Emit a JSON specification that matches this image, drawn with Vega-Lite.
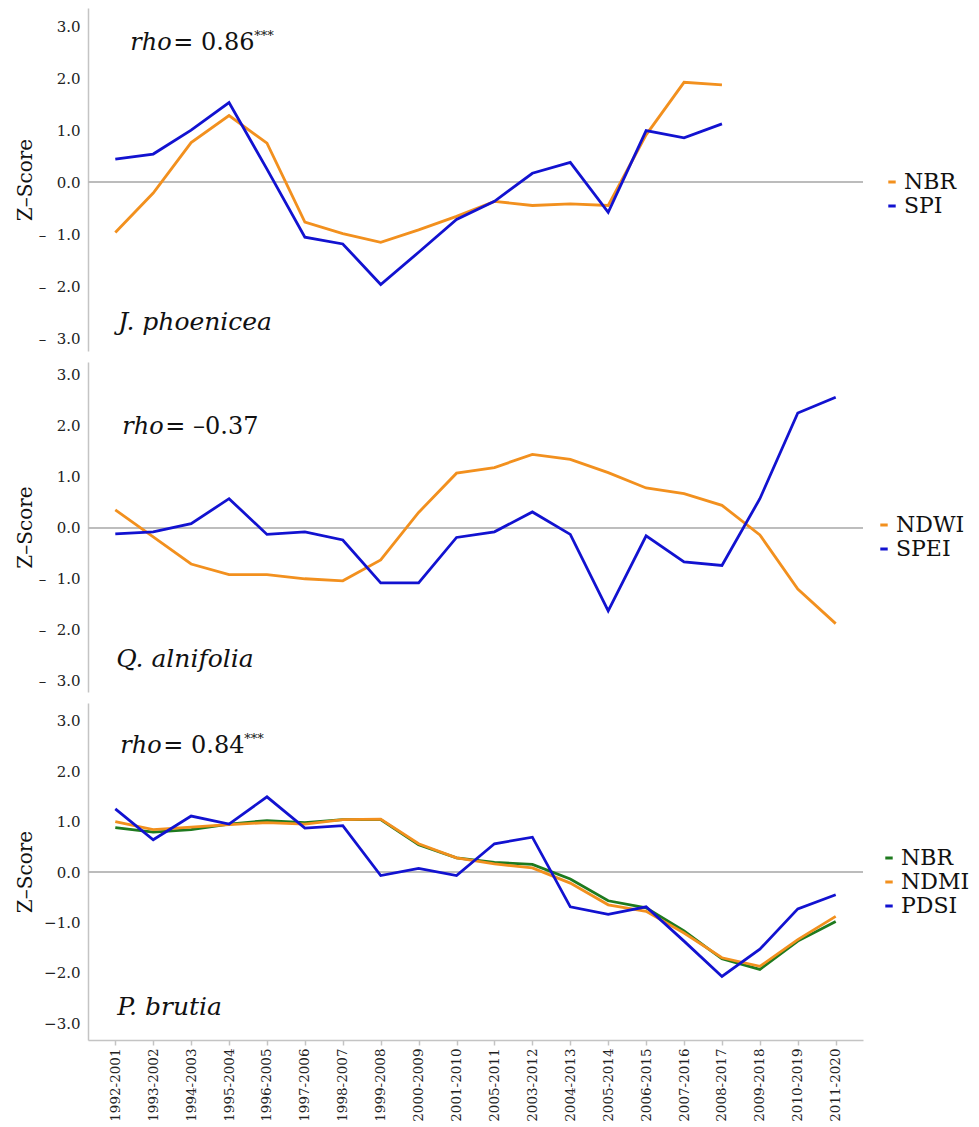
{
  "$schema": "https://vega.github.io/schema/vega-lite/v6.json",
  "background": "white",
  "padding": {"left": 15, "top": 8, "right": 5, "bottom": 3},
  "config": {"view": {"stroke": null}, "font": "DejaVu Serif"},
  "spacing": 11,
  "resolve": {"scale": {"color": "independent", "x": "independent", "y": "independent"}, "legend": {"color": "independent"}},
  "datasets": {
    "jp": [
      {"period": "1992-2001", "series": "NBR", "z": -0.97},
      {"period": "1993-2002", "series": "NBR", "z": -0.21},
      {"period": "1994-2003", "series": "NBR", "z": 0.76},
      {"period": "1995-2004", "series": "NBR", "z": 1.28},
      {"period": "1996-2005", "series": "NBR", "z": 0.75},
      {"period": "1997-2006", "series": "NBR", "z": -0.77},
      {"period": "1998-2007", "series": "NBR", "z": -0.99},
      {"period": "1999-2008", "series": "NBR", "z": -1.16},
      {"period": "2000-2009", "series": "NBR", "z": -0.92},
      {"period": "2001-2010", "series": "NBR", "z": -0.66},
      {"period": "2005-2011", "series": "NBR", "z": -0.37},
      {"period": "2003-2012", "series": "NBR", "z": -0.45},
      {"period": "2004-2013", "series": "NBR", "z": -0.42},
      {"period": "2005-2014", "series": "NBR", "z": -0.45},
      {"period": "2006-2015", "series": "NBR", "z": 0.91},
      {"period": "2007-2016", "series": "NBR", "z": 1.92},
      {"period": "2008-2017", "series": "NBR", "z": 1.87},
      {"period": "1992-2001", "series": "SPI", "z": 0.44},
      {"period": "1993-2002", "series": "SPI", "z": 0.54},
      {"period": "1994-2003", "series": "SPI", "z": 1.0},
      {"period": "1995-2004", "series": "SPI", "z": 1.53},
      {"period": "1996-2005", "series": "SPI", "z": 0.25},
      {"period": "1997-2006", "series": "SPI", "z": -1.06},
      {"period": "1998-2007", "series": "SPI", "z": -1.19},
      {"period": "1999-2008", "series": "SPI", "z": -1.97},
      {"period": "2000-2009", "series": "SPI", "z": -1.35},
      {"period": "2001-2010", "series": "SPI", "z": -0.72},
      {"period": "2005-2011", "series": "SPI", "z": -0.37},
      {"period": "2003-2012", "series": "SPI", "z": 0.17},
      {"period": "2004-2013", "series": "SPI", "z": 0.38},
      {"period": "2005-2014", "series": "SPI", "z": -0.58},
      {"period": "2006-2015", "series": "SPI", "z": 0.99},
      {"period": "2007-2016", "series": "SPI", "z": 0.85},
      {"period": "2008-2017", "series": "SPI", "z": 1.12}
    ],
    "qa": [
      {"period": "1992-2001", "series": "NDWI", "z": 0.35},
      {"period": "1993-2002", "series": "NDWI", "z": -0.18},
      {"period": "1994-2003", "series": "NDWI", "z": -0.71},
      {"period": "1995-2004", "series": "NDWI", "z": -0.92},
      {"period": "1996-2005", "series": "NDWI", "z": -0.92},
      {"period": "1997-2006", "series": "NDWI", "z": -1.0},
      {"period": "1998-2007", "series": "NDWI", "z": -1.04},
      {"period": "1999-2008", "series": "NDWI", "z": -0.63},
      {"period": "2000-2009", "series": "NDWI", "z": 0.3},
      {"period": "2001-2010", "series": "NDWI", "z": 1.07},
      {"period": "2005-2011", "series": "NDWI", "z": 1.18},
      {"period": "2003-2012", "series": "NDWI", "z": 1.44},
      {"period": "2004-2013", "series": "NDWI", "z": 1.34},
      {"period": "2005-2014", "series": "NDWI", "z": 1.08},
      {"period": "2006-2015", "series": "NDWI", "z": 0.78},
      {"period": "2007-2016", "series": "NDWI", "z": 0.67},
      {"period": "2008-2017", "series": "NDWI", "z": 0.44},
      {"period": "2009-2018", "series": "NDWI", "z": -0.14},
      {"period": "2010-2019", "series": "NDWI", "z": -1.2},
      {"period": "2011-2020", "series": "NDWI", "z": -1.88},
      {"period": "1992-2001", "series": "SPEI", "z": -0.12},
      {"period": "1993-2002", "series": "SPEI", "z": -0.08},
      {"period": "1994-2003", "series": "SPEI", "z": 0.08},
      {"period": "1995-2004", "series": "SPEI", "z": 0.57},
      {"period": "1996-2005", "series": "SPEI", "z": -0.13},
      {"period": "1997-2006", "series": "SPEI", "z": -0.08},
      {"period": "1998-2007", "series": "SPEI", "z": -0.24},
      {"period": "1999-2008", "series": "SPEI", "z": -1.08},
      {"period": "2000-2009", "series": "SPEI", "z": -1.08},
      {"period": "2001-2010", "series": "SPEI", "z": -0.19},
      {"period": "2005-2011", "series": "SPEI", "z": -0.08},
      {"period": "2003-2012", "series": "SPEI", "z": 0.31},
      {"period": "2004-2013", "series": "SPEI", "z": -0.13},
      {"period": "2005-2014", "series": "SPEI", "z": -1.63},
      {"period": "2006-2015", "series": "SPEI", "z": -0.16},
      {"period": "2007-2016", "series": "SPEI", "z": -0.67},
      {"period": "2008-2017", "series": "SPEI", "z": -0.74},
      {"period": "2009-2018", "series": "SPEI", "z": 0.57},
      {"period": "2010-2019", "series": "SPEI", "z": 2.25},
      {"period": "2011-2020", "series": "SPEI", "z": 2.56}
    ],
    "pb": [
      {"period": "1992-2001", "series": "NBR", "z": 0.88},
      {"period": "1993-2002", "series": "NBR", "z": 0.79},
      {"period": "1994-2003", "series": "NBR", "z": 0.84},
      {"period": "1995-2004", "series": "NBR", "z": 0.95},
      {"period": "1996-2005", "series": "NBR", "z": 1.02},
      {"period": "1997-2006", "series": "NBR", "z": 0.98},
      {"period": "1998-2007", "series": "NBR", "z": 1.04},
      {"period": "1999-2008", "series": "NBR", "z": 1.04},
      {"period": "2000-2009", "series": "NBR", "z": 0.54},
      {"period": "2001-2010", "series": "NBR", "z": 0.28},
      {"period": "2005-2011", "series": "NBR", "z": 0.19},
      {"period": "2003-2012", "series": "NBR", "z": 0.15},
      {"period": "2004-2013", "series": "NBR", "z": -0.14},
      {"period": "2005-2014", "series": "NBR", "z": -0.57},
      {"period": "2006-2015", "series": "NBR", "z": -0.71},
      {"period": "2007-2016", "series": "NBR", "z": -1.17},
      {"period": "2008-2017", "series": "NBR", "z": -1.72},
      {"period": "2009-2018", "series": "NBR", "z": -1.93},
      {"period": "2010-2019", "series": "NBR", "z": -1.37},
      {"period": "2011-2020", "series": "NBR", "z": -0.98},
      {"period": "1992-2001", "series": "NDMI", "z": 1.0},
      {"period": "1993-2002", "series": "NDMI", "z": 0.84},
      {"period": "1994-2003", "series": "NDMI", "z": 0.89},
      {"period": "1995-2004", "series": "NDMI", "z": 0.94},
      {"period": "1996-2005", "series": "NDMI", "z": 0.98},
      {"period": "1997-2006", "series": "NDMI", "z": 0.95},
      {"period": "1998-2007", "series": "NDMI", "z": 1.04},
      {"period": "1999-2008", "series": "NDMI", "z": 1.05},
      {"period": "2000-2009", "series": "NDMI", "z": 0.56},
      {"period": "2001-2010", "series": "NDMI", "z": 0.28},
      {"period": "2005-2011", "series": "NDMI", "z": 0.16},
      {"period": "2003-2012", "series": "NDMI", "z": 0.08},
      {"period": "2004-2013", "series": "NDMI", "z": -0.22},
      {"period": "2005-2014", "series": "NDMI", "z": -0.65},
      {"period": "2006-2015", "series": "NDMI", "z": -0.78},
      {"period": "2007-2016", "series": "NDMI", "z": -1.21},
      {"period": "2008-2017", "series": "NDMI", "z": -1.7},
      {"period": "2009-2018", "series": "NDMI", "z": -1.87},
      {"period": "2010-2019", "series": "NDMI", "z": -1.34},
      {"period": "2011-2020", "series": "NDMI", "z": -0.88},
      {"period": "1992-2001", "series": "PDSI", "z": 1.25},
      {"period": "1993-2002", "series": "PDSI", "z": 0.64},
      {"period": "1994-2003", "series": "PDSI", "z": 1.11},
      {"period": "1995-2004", "series": "PDSI", "z": 0.95},
      {"period": "1996-2005", "series": "PDSI", "z": 1.49},
      {"period": "1997-2006", "series": "PDSI", "z": 0.87},
      {"period": "1998-2007", "series": "PDSI", "z": 0.92},
      {"period": "1999-2008", "series": "PDSI", "z": -0.07},
      {"period": "2000-2009", "series": "PDSI", "z": 0.07},
      {"period": "2001-2010", "series": "PDSI", "z": -0.07},
      {"period": "2005-2011", "series": "PDSI", "z": 0.56},
      {"period": "2003-2012", "series": "PDSI", "z": 0.69},
      {"period": "2004-2013", "series": "PDSI", "z": -0.69},
      {"period": "2005-2014", "series": "PDSI", "z": -0.84},
      {"period": "2006-2015", "series": "PDSI", "z": -0.69},
      {"period": "2007-2016", "series": "PDSI", "z": -1.37},
      {"period": "2008-2017", "series": "PDSI", "z": -2.07},
      {"period": "2009-2018", "series": "PDSI", "z": -1.53},
      {"period": "2010-2019", "series": "PDSI", "z": -0.73},
      {"period": "2011-2020", "series": "PDSI", "z": -0.45}
    ]
  },
  "vconcat": [
    {
      "width": 775,
      "height": 343,
      "layer": [
        {
          "data": {"name": "jp"},
          "mark": {"type": "rule", "color": "#bdbdbd", "strokeWidth": 1.5},
          "encoding": {
            "y": {"datum": 0, "type": "quantitative", "scale": {"domain": [-3.25, 3.35], "nice": false, "zero": false},
              "axis": {"title": "Z–Score", "titleFontSize": 20, "titleFontWeight": "normal", "titleColor": "#111", "titleX": -53, "labelFontSize": 15, "labelColor": "#222", "ticks": false, "labelPadding": 8, "domainColor": "#c4c4c4", "domainWidth": 1.5, "grid": false, "values": [-3, -2, -1, 0, 1, 2, 3], "labelExpr": "datum.value < 0 ? '–\u2002\u2009' + format(-datum.value, '.1f') : format(datum.value, '.1f')"}}
          }
        },
        {
          "data": {"name": "jp"},
          "mark": {"type": "line", "strokeWidth": 2.8},
          "encoding": {
            "x": {"field": "period", "type": "ordinal", "title": null, "axis": null,
              "scale": {"type": "point", "padding": 0.72, "domain": ["1992-2001","1993-2002","1994-2003","1995-2004","1996-2005","1997-2006","1998-2007","1999-2008","2000-2009","2001-2010","2005-2011","2003-2012","2004-2013","2005-2014","2006-2015","2007-2016","2008-2017","2009-2018","2010-2019","2011-2020"]}},
            "y": {"field": "z", "type": "quantitative",
              "axis": {"title": "Z–Score", "titleFontSize": 20, "titleFontWeight": "normal", "titleColor": "#111", "titleX": -53, "labelFontSize": 15, "labelColor": "#222", "ticks": false, "labelPadding": 8, "domainColor": "#c4c4c4", "domainWidth": 1.5, "grid": false, "values": [-3, -2, -1, 0, 1, 2, 3], "labelExpr": "datum.value < 0 ? '–\u2002\u2009' + format(-datum.value, '.1f') : format(datum.value, '.1f')"}},
            "color": {"field": "series", "type": "nominal",
              "scale": {"domain": ["NBR", "SPI"], "range": ["#F2901E", "#1212D0"]},
              "legend": {"title": null, "orient": "none", "legendX": 793, "legendY": 163, "padding": 0, "symbolType": "stroke", "symbolStrokeWidth": 3, "symbolSize": 55, "labelFontSize": 22, "labelColor": "#111", "rowPadding": 2, "labelOffset": 1}}
          }
        },
        {
          "data": {"values": [{"label": "rho"}]},
          "mark": {"type": "text", "fontStyle": "italic", "fontSize": 24, "align": "left", "baseline": "alphabetic", "dx": 15, "color": "#111"},
          "encoding": {"x": {"datum": "1992-2001", "type": "ordinal", "axis": null}, "y": {"datum": 2.55, "type": "quantitative"}, "text": {"field": "label"}}
        },
        {
          "data": {"values": [{"label": "= 0.86"}]},
          "mark": {"type": "text", "fontSize": 24, "align": "left", "baseline": "alphabetic", "dx": 58, "color": "#111"},
          "encoding": {"x": {"datum": "1992-2001", "type": "ordinal", "axis": null}, "y": {"datum": 2.55, "type": "quantitative"}, "text": {"field": "label"}}
        },
        {
          "data": {"values": [{"label": "***"}]},
          "mark": {"type": "text", "fontSize": 13, "align": "left", "baseline": "alphabetic", "dx": 139, "dy": -10, "color": "#111"},
          "encoding": {"x": {"datum": "1992-2001", "type": "ordinal", "axis": null}, "y": {"datum": 2.55, "type": "quantitative"}, "text": {"field": "label"}}
        },
        {
          "data": {"values": [{"label": "J. phoenicea"}]},
          "mark": {"type": "text", "fontStyle": "italic", "fontSize": 25, "align": "left", "baseline": "alphabetic", "dx": 3, "color": "#111"},
          "encoding": {"x": {"datum": "1992-2001", "type": "ordinal", "axis": null}, "y": {"datum": -2.85, "type": "quantitative"}, "text": {"field": "label"}}
        }
      ]
    },
    {
      "width": 775,
      "height": 330,
      "layer": [
        {
          "data": {"name": "qa"},
          "mark": {"type": "rule", "color": "#bdbdbd", "strokeWidth": 1.5},
          "encoding": {
            "y": {"datum": 0, "type": "quantitative", "scale": {"domain": [-3.22, 3.25], "nice": false, "zero": false},
              "axis": {"title": "Z–Score", "titleFontSize": 20, "titleFontWeight": "normal", "titleColor": "#111", "titleX": -53, "labelFontSize": 15, "labelColor": "#222", "ticks": false, "labelPadding": 8, "domainColor": "#c4c4c4", "domainWidth": 1.5, "grid": false, "values": [-3, -2, -1, 0, 1, 2, 3], "labelExpr": "datum.value < 0 ? '–\u2002\u2009' + format(-datum.value, '.1f') : format(datum.value, '.1f')"}}
          }
        },
        {
          "data": {"name": "qa"},
          "mark": {"type": "line", "strokeWidth": 2.8},
          "encoding": {
            "x": {"field": "period", "type": "ordinal", "title": null, "axis": null,
              "scale": {"type": "point", "padding": 0.72, "domain": ["1992-2001","1993-2002","1994-2003","1995-2004","1996-2005","1997-2006","1998-2007","1999-2008","2000-2009","2001-2010","2005-2011","2003-2012","2004-2013","2005-2014","2006-2015","2007-2016","2008-2017","2009-2018","2010-2019","2011-2020"]}},
            "y": {"field": "z", "type": "quantitative",
              "axis": {"title": "Z–Score", "titleFontSize": 20, "titleFontWeight": "normal", "titleColor": "#111", "titleX": -53, "labelFontSize": 15, "labelColor": "#222", "ticks": false, "labelPadding": 8, "domainColor": "#c4c4c4", "domainWidth": 1.5, "grid": false, "values": [-3, -2, -1, 0, 1, 2, 3], "labelExpr": "datum.value < 0 ? '–\u2002\u2009' + format(-datum.value, '.1f') : format(datum.value, '.1f')"}},
            "color": {"field": "series", "type": "nominal",
              "scale": {"domain": ["NDWI", "SPEI"], "range": ["#F2901E", "#1212D0"]},
              "legend": {"title": null, "orient": "none", "legendX": 785, "legendY": 152, "padding": 0, "symbolType": "stroke", "symbolStrokeWidth": 3, "symbolSize": 55, "labelFontSize": 22, "labelColor": "#111", "rowPadding": 2, "labelOffset": 1}}
          }
        },
        {
          "data": {"values": [{"label": "rho"}]},
          "mark": {"type": "text", "fontStyle": "italic", "fontSize": 24, "align": "left", "baseline": "alphabetic", "dx": 7, "color": "#111"},
          "encoding": {"x": {"datum": "1992-2001", "type": "ordinal", "axis": null}, "y": {"datum": 1.84, "type": "quantitative"}, "text": {"field": "label"}}
        },
        {
          "data": {"values": [{"label": "= –0.37"}]},
          "mark": {"type": "text", "fontSize": 24, "align": "left", "baseline": "alphabetic", "dx": 50, "color": "#111"},
          "encoding": {"x": {"datum": "1992-2001", "type": "ordinal", "axis": null}, "y": {"datum": 1.84, "type": "quantitative"}, "text": {"field": "label"}}
        },
        {
          "data": {"values": [{"label": "Q. alnifolia"}]},
          "mark": {"type": "text", "fontStyle": "italic", "fontSize": 25, "align": "left", "baseline": "alphabetic", "dx": 1, "color": "#111"},
          "encoding": {"x": {"datum": "1992-2001", "type": "ordinal", "axis": null}, "y": {"datum": -2.73, "type": "quantitative"}, "text": {"field": "label"}}
        }
      ]
    },
    {
      "width": 775,
      "height": 337,
      "layer": [
        {
          "data": {"name": "pb"},
          "mark": {"type": "rule", "color": "#bdbdbd", "strokeWidth": 1.5},
          "encoding": {
            "y": {"datum": 0, "type": "quantitative", "scale": {"domain": [-3.33, 3.35], "nice": false, "zero": false},
              "axis": {"title": "Z–Score", "titleFontSize": 20, "titleFontWeight": "normal", "titleColor": "#111", "titleX": -53, "labelFontSize": 15, "labelColor": "#222", "ticks": false, "labelPadding": 8, "domainColor": "#c4c4c4", "domainWidth": 1.5, "grid": false, "values": [-3, -2, -1, 0, 1, 2, 3], "format": ".1f"}}
          }
        },
        {
          "data": {"name": "pb"},
          "mark": {"type": "line", "strokeWidth": 2.8},
          "encoding": {
            "x": {"field": "period", "type": "ordinal", "title": null,
              "axis": {"labelAngle": -90, "labelFontSize": 13.5, "labelColor": "#222", "labelPadding": 3, "tickSize": 5, "tickColor": "#c4c4c4", "tickWidth": 1.5, "domainColor": "#c4c4c4", "domainWidth": 1.5, "grid": false},
              "scale": {"type": "point", "padding": 0.72, "domain": ["1992-2001","1993-2002","1994-2003","1995-2004","1996-2005","1997-2006","1998-2007","1999-2008","2000-2009","2001-2010","2005-2011","2003-2012","2004-2013","2005-2014","2006-2015","2007-2016","2008-2017","2009-2018","2010-2019","2011-2020"]}},
            "y": {"field": "z", "type": "quantitative",
              "axis": {"title": "Z–Score", "titleFontSize": 20, "titleFontWeight": "normal", "titleColor": "#111", "titleX": -53, "labelFontSize": 15, "labelColor": "#222", "ticks": false, "labelPadding": 8, "domainColor": "#c4c4c4", "domainWidth": 1.5, "grid": false, "values": [-3, -2, -1, 0, 1, 2, 3], "format": ".1f"}},
            "color": {"field": "series", "type": "nominal",
              "scale": {"domain": ["NBR", "NDMI", "PDSI"], "range": ["#1E7A1E", "#F2901E", "#1212D0"]},
              "legend": {"title": null, "orient": "none", "legendX": 790, "legendY": 144, "padding": 0, "symbolType": "stroke", "symbolStrokeWidth": 3, "symbolSize": 55, "labelFontSize": 22, "labelColor": "#111", "rowPadding": 2, "labelOffset": 1}}
          }
        },
        {
          "data": {"values": [{"label": "rho"}]},
          "mark": {"type": "text", "fontStyle": "italic", "fontSize": 24, "align": "left", "baseline": "alphabetic", "dx": 5, "color": "#111"},
          "encoding": {"x": {"datum": "1992-2001", "type": "ordinal"}, "y": {"datum": 2.36, "type": "quantitative"}, "text": {"field": "label"}}
        },
        {
          "data": {"values": [{"label": "= 0.84"}]},
          "mark": {"type": "text", "fontSize": 24, "align": "left", "baseline": "alphabetic", "dx": 48, "color": "#111"},
          "encoding": {"x": {"datum": "1992-2001", "type": "ordinal"}, "y": {"datum": 2.36, "type": "quantitative"}, "text": {"field": "label"}}
        },
        {
          "data": {"values": [{"label": "***"}]},
          "mark": {"type": "text", "fontSize": 13, "align": "left", "baseline": "alphabetic", "dx": 129, "dy": -10, "color": "#111"},
          "encoding": {"x": {"datum": "1992-2001", "type": "ordinal"}, "y": {"datum": 2.36, "type": "quantitative"}, "text": {"field": "label"}}
        },
        {
          "data": {"values": [{"label": "P. brutia"}]},
          "mark": {"type": "text", "fontStyle": "italic", "fontSize": 25, "align": "left", "baseline": "alphabetic", "dx": 2, "color": "#111"},
          "encoding": {"x": {"datum": "1992-2001", "type": "ordinal"}, "y": {"datum": -2.83, "type": "quantitative"}, "text": {"field": "label"}}
        }
      ]
    }
  ]
}
